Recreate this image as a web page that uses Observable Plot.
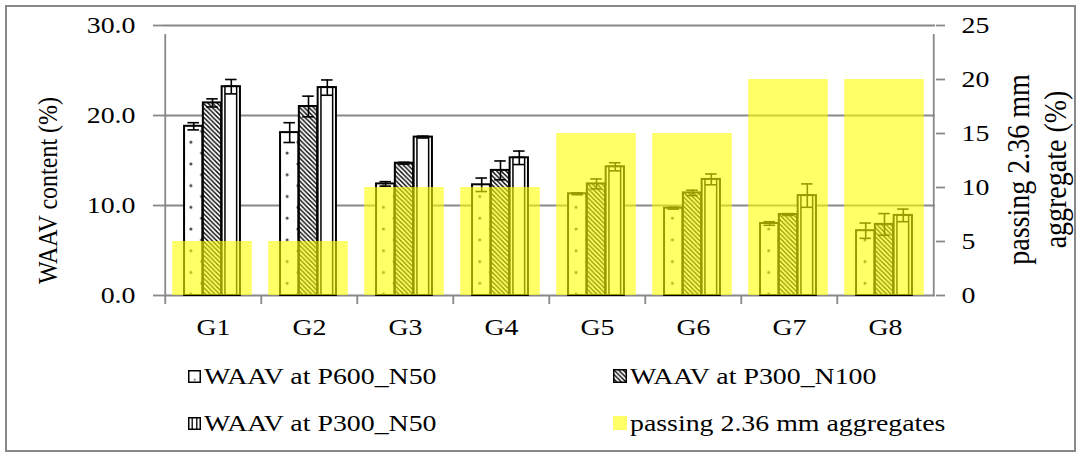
<!DOCTYPE html>
<html>
<head>
<meta charset="utf-8">
<script src="https://cdn.jsdelivr.net/npm/d3@7"></script>
<script src="https://cdn.jsdelivr.net/npm/@observablehq/plot@0.6"></script>
</head>
<body style="margin:0; background:#fff; font-family:'Liberation Serif', serif">
<svg width="0" height="0" style="position:absolute">
  <defs>
    <pattern id="dots" patternUnits="userSpaceOnUse" width="21.4" height="21.7" x="189.3" y="12">
      <rect width="21.4" height="21.7" fill="#fff"></rect>
      <circle cx="0" cy="0" r="1.5" fill="#444"></circle>
      <circle cx="21.4" cy="0" r="1.5" fill="#444"></circle>
      <circle cx="0" cy="21.7" r="1.5" fill="#444"></circle>
      <circle cx="21.4" cy="21.7" r="1.5" fill="#444"></circle>
      <circle cx="10.7" cy="10.85" r="1.5" fill="#444"></circle>
    </pattern>
    <pattern id="diag" patternUnits="userSpaceOnUse" width="4.6" height="4.6">
      <rect width="4.6" height="4.6" fill="#fff"></rect>
      <path d="M-1,-1 L5.6,5.6 M-1,3.6 L1,5.6 M3.6,-1 L5.6,1" stroke="#000" stroke-width="1.4"></path>
    </pattern>
    <pattern id="dotswatch" patternUnits="objectBoundingBox" width="1" height="1">
      <rect width="12" height="12" fill="#fff"></rect>
      <circle cx="6" cy="9" r="0.9" fill="#333"></circle>
    </pattern>
  </defs>
</svg>
<div id="wrap" style="position:relative; width:1081px; height:457px; overflow:hidden">
  <div id="chart" style="position:absolute; left:0; top:0"></div>
  <div id="legend"></div>
  <div id="border" style="position:absolute; left:5px; top:5px; width:1071px; height:447px; box-sizing:border-box; border:2px solid #888"></div>
</div>
<script>
// ---- data ----
const groups = ["G1", "G2", "G3", "G4", "G5", "G6", "G7", "G8"];
const waavP600N50 = [18.8, 18.1, 12.4, 12.3, 11.3, 9.7, 8.0, 7.2];
const errP600N50 = [0.4, 1.1, 0.25, 0.75, 0.1, 0.1, 0.2, 0.85];
const waavP300N100 = [21.4, 21.0, 14.7, 13.9, 12.4, 11.4, 9.0, 7.9];
const errP300N100 = [0.45, 1.15, 0.1, 1.05, 0.55, 0.3, 0.1, 1.2];
const waavP300N50 = [23.2, 23.1, 17.6, 15.3, 14.3, 12.9, 11.1, 8.9];
const errP300N50 = [0.8, 0.85, 0.1, 0.75, 0.45, 0.6, 1.3, 0.7];
const passing236 = [5, 5, 10, 10, 15, 15, 20, 20];
const leftTicks = [0, 10, 20, 30];
const rightTicks = [0, 5, 10, 15, 20, 25];
const seriesNames = ["WAAV at P600_N50", "WAAV at P300_N100", "WAAV at P300_N50", "passing 2.36 mm aggregates"];

// ---- layout ----
const FONT = "Liberation Serif";
const FS = 24;
const STRETCH = 1.16; // the reference's lettering is horizontally wide
const W = 1081, H = 350;
const mL = 163, mR = 146, mT = 25, mB = H - 295;
const step = (W - mL - mR) / groups.length;
const bw = 18.8;
const rightMax = 25, leftMax = 30;
const k = leftMax / rightMax;
const grey = "#888";

const series = [
  {values: waavP600N50, errors: errP600N50, fill: "url(#dots)", dx: -19.8},
  {values: waavP300N100, errors: errP300N100, fill: "url(#diag)", dx: -1},
  {values: waavP300N50, errors: errP300N50, fill: "#fff", dx: 17.8}
];

const barInset = (step - bw) / 2;
const capInset = (step - 12) / 2;

const marks = [];
marks.push(Plot.ruleY(leftTicks, {stroke: grey, strokeWidth: 1.8}));
series.forEach((s, si) => {
  const rows = groups.map((g, i) => ({g, v: s.values[i], e: s.errors[i]}));
  marks.push(Plot.barY(rows, {x: "g", y: "v", fill: s.fill, stroke: "#000", strokeWidth: 2,
    insetLeft: barInset, insetRight: barInset, dx: s.dx}));
  if (si === 2) {
    marks.push(Plot.barY(rows, {x: "g", y: "v", fill: "none", stroke: "#000", strokeWidth: 1.5,
      insetLeft: barInset + 3.3, insetRight: barInset + 3.3, dx: s.dx}));
  }
});
series.forEach((s) => {
  const rows = groups.map((g, i) => ({g, lo: s.values[i] - s.errors[i], hi: s.values[i] + s.errors[i]}));
  marks.push(Plot.ruleX(rows, {x: "g", y1: "lo", y2: "hi", stroke: "#000", strokeWidth: 1.6, dx: s.dx}));
  marks.push(Plot.tickY(rows, {x: "g", y: "lo", stroke: "#000", strokeWidth: 1.6, insetLeft: capInset, insetRight: capInset, dx: s.dx}));
  marks.push(Plot.tickY(rows, {x: "g", y: "hi", stroke: "#000", strokeWidth: 1.6, insetLeft: capInset, insetRight: capInset, dx: s.dx}));
});
// passing 2.36 mm (right axis, rescaled onto the left scale)
marks.push(Plot.barY(groups.map((g, i) => ({g, p: passing236[i] * k})), {
  x: "g", y: "p", fill: "rgb(255,255,0)", fillOpacity: 0.6, insetLeft: 8.25, insetRight: 8.25, dx: -1
}));
// category boundary ticks and vertical axis lines
marks.push(Plot.ruleX(groups, {x: d => d, dx: -step / 2, y1: 0, y2: 0, insetBottom: -9, stroke: grey, strokeWidth: 1.8}));
marks.push(Plot.ruleX([groups[0]], {x: d => d, dx: -step / 2, y1: 0, y2: leftMax, insetBottom: -9, stroke: grey, strokeWidth: 1.8}));
marks.push(Plot.ruleX([groups[groups.length - 1]], {x: d => d, dx: step / 2, y1: 0, y2: leftMax, insetBottom: -9, stroke: grey, strokeWidth: 1.8}));
// axes
marks.push(Plot.axisY(leftTicks, {anchor: "left", tickSize: 10, tickPadding: 18, tickFormat: d3.format(".1f"),
  stroke: grey, strokeWidth: 1.8, fill: "#000", fontSize: FS, fontFamily: FONT, label: null}));
marks.push(Plot.axisY(rightTicks.map(t => t * k), {anchor: "right", tickSize: 9, tickPadding: 17,
  tickFormat: d => String(Math.round(d / k)), stroke: grey, strokeWidth: 1.8, fill: "#000", fontSize: FS, fontFamily: FONT, label: null}));
marks.push(Plot.axisX({tickSize: 0, tickPadding: 22, fontSize: FS, fontFamily: FONT, fill: "#000", label: null}));
// axis titles
marks.push(Plot.text(["WAAV content (%)"], {text: d => d, frameAnchor: "left", textAnchor: "middle", dx: -115, dy: 30, rotate: -90,
  fontSize: FS, fontFamily: FONT, fill: "#000"}));
marks.push(Plot.text(["passing 2.36 mm\naggregate (%)"], {text: d => d, frameAnchor: "right", textAnchor: "middle", dx: 100, dy: 9, rotate: -90,
  fontSize: 28, fontFamily: FONT, lineHeight: 1.15, fill: "#000"}));

const chart = Plot.plot({
  width: W, height: H,
  marginLeft: mL, marginRight: mR, marginTop: mT, marginBottom: mB,
  style: `font-family: 'Liberation Serif', serif; font-size: ${FS}px; background: transparent; overflow: visible;`,
  x: {type: "band", domain: groups, padding: 0, axis: null},
  y: {domain: [0, leftMax], axis: null},
  marks
});
document.getElementById("chart").appendChild(chart);
// widen the lettering like the reference (horizontal labels along their length, rotated titles across)
chart.querySelectorAll('g[aria-label$="tick label"] text').forEach(t => {
  const L = t.getComputedTextLength();
  t.setAttribute("textLength", (L * STRETCH).toFixed(2));
  t.setAttribute("lengthAdjust", "spacingAndGlyphs");
});
chart.querySelectorAll('g[aria-label="text"] text').forEach(t => {
  const tr = t.getAttribute("transform") || "";
  t.setAttribute("transform", tr + ` scale(1,${STRETCH})`);
});

// ---- legend ----
const swatches = [
  `<svg width="13" height="13" style="margin-right:3px;flex:none"><rect x="0.75" y="0.75" width="11.5" height="11.5" fill="url(#dotswatch)" stroke="#000" stroke-width="1.5"/></svg>`,
  `<svg width="14" height="14" style="margin-right:3px;flex:none"><rect x="0.75" y="0.75" width="12.5" height="12.5" fill="url(#diag)" stroke="#000" stroke-width="1.5"/></svg>`,
  `<svg width="13" height="13" style="margin-right:3px;flex:none"><rect x="0.75" y="0.75" width="11.5" height="11.5" fill="#fff" stroke="#000" stroke-width="1.5"/><line x1="4.2" y1="0.75" x2="4.2" y2="12.25" stroke="#000" stroke-width="1.3"/><line x1="8.8" y1="0.75" x2="8.8" y2="12.25" stroke="#000" stroke-width="1.3"/></svg>`,
  `<svg width="14" height="14" style="margin-right:3px;flex:none"><rect width="14" height="14" fill="rgb(255,255,102)"/></svg>`
];
const legPos = [[188, 376], [613, 376], [188, 423], [613, 423]];
const legend = document.getElementById("legend");
seriesNames.forEach((name, i) => {
  const d = document.createElement("div");
  d.setAttribute("style", `position:absolute; display:flex; align-items:center; white-space:nowrap; color:#000; font-family:'Liberation Serif', serif; font-size:${FS}px; left:${legPos[i][0]}px; top:${legPos[i][1] - 16}px; height:32px;`);
  d.innerHTML = swatches[i] + `<span style="display:inline-block; transform:scaleX(${STRETCH}); transform-origin:left center">${name}</span>`;
  legend.appendChild(d);
});
</script>
</body>
</html>
